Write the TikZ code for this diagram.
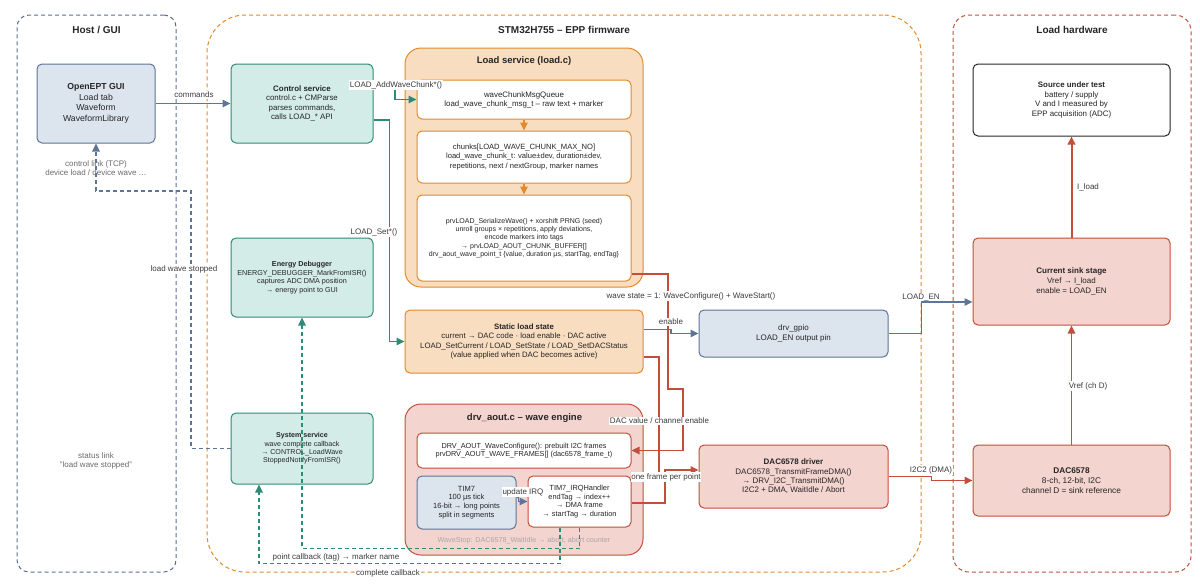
\documentclass[tikz,border=0pt]{standalone}
\usepackage{fontspec}
\setmainfont{Liberation Sans}
\usetikzlibrary{arrows.meta}

\definecolor{guiline}{HTML}{5D7596}
\definecolor{guifill}{HTML}{DCE4EE}
\definecolor{tealline}{HTML}{2E8B78}
\definecolor{tealfill}{HTML}{D3ECE7}
\definecolor{orgline}{HTML}{E2892B}
\definecolor{orgfill}{HTML}{F9DDC1}
\definecolor{redline}{HTML}{C24E3B}
\definecolor{redfill}{HTML}{F4D4CF}
\definecolor{hostline}{HTML}{5C6E8F}
\definecolor{txt}{HTML}{262626}
\definecolor{lbltxt}{HTML}{3C3C3C}
\definecolor{softtxt}{HTML}{6A6A6A}
\definecolor{fainttxt}{HTML}{A8A8A8}

\begin{document}
\begin{tikzpicture}[x=1pt, y=-1pt,
  every node/.style={text=txt, font=\fontsize{7.4}{8.9}\selectfont},
  fs/.style 2 args={font=\fontsize{#1}{#2}\selectfont},
  sz/.style 2 args={minimum width=#1pt, minimum height=#2pt},
  box/.style={rounded corners=5pt, line width=1pt, align=center, inner sep=0pt},
  guibox/.style={box, draw=guiline, fill=guifill},
  tealbox/.style={box, draw=tealline, fill=tealfill},
  orgbox/.style={box, draw=orgline, fill=orgfill},
  orgwhite/.style={box, draw=orgline, fill=white},
  redbox/.style={box, draw=redline, fill=redfill},
  redwhite/.style={box, draw=redline, fill=white},
  plainbox/.style={box, draw=black!85, fill=white},
  grp/.style={dash pattern=on 4pt off 3pt, line width=1pt, inner sep=0pt},
  grptitle/.style={font=\fontsize{10}{12}\selectfont\bfseries},
  subtitle/.style={font=\fontsize{9.5}{11}\selectfont\bfseries},
  lbl/.style={fill=white, inner sep=0.8pt, text=lbltxt, font=\fontsize{8}{9.6}\selectfont},
  note/.style={text=softtxt, align=center, font=\fontsize{8}{9.6}\selectfont},
  tip/.style={-{Triangle[length=8pt,width=7.5pt]}},
  guiarrow/.style={tip, guiline, line width=1.2pt},
  tealarrow/.style={tip, tealline, line width=1.2pt},
  orgarrow/.style={tip, orgline, line width=1.2pt},
  redarrow/.style={tip, redline, line width=1.2pt},
  dashline/.style={dash pattern=on 4pt off 3pt}]

\useasboundingbox (0,0) rectangle (1200,587);



% Groups
\node[grp, draw=hostline, rounded corners=12pt, sz={159}{557}] (host) at (96.5,293.5) {};
\node[grp, draw=orgline, rounded corners=38pt, sz={714}{557}] (fw) at (564,293.5) {};
\node[grp, draw=redline, rounded corners=16pt, sz={238}{557}] (hw) at (1072,293.5) {};

\node[grptitle] (hosttitle) at (96.5,30) {Host / GUI};
\node[grptitle] (fwtitle) at (564,30) {STM32H755 – EPP firmware};
\node[grptitle] (hwtitle) at (1072,30) {Load hardware};

\node[orgbox, rounded corners=16pt, sz={238}{239}] (loadgrp) at (524,167.5) {};
\node[subtitle] (loadtitle) at (524,61) {Load service (load.c)};

\node[redbox, rounded corners=16pt, sz={238}{151}] (aoutgrp) at (524,479.5) {};
\node[subtitle] (aouttitle) at (524.5,418) {drv\_aout.c – wave engine};



% Host side
\node[guibox, sz={118}{79}, fs={8.7}{10.5}] (gui) at (96,103.5)
  {\textbf{OpenEPT GUI}\\Load tab\\Waveform\\WaveformLibrary};

\node[note] (ctltext) at (96,168) {control link (TCP)\\device load / device wave …};
\node[note] (statustext) at (96,461) {status link\\"load wave stopped"};



% Firmware services
\node[tealbox, sz={142}{79}, fs={7.9}{9.5}] (ctrl) at (302,103.5)
  {\textbf{Control service}\\control.c + CMParse\\parses commands,\\calls LOAD\_* API};

\node[tealbox, sz={142}{79}, fs={7.2}{8.5}] (energy) at (302,277.5)
  {\textbf{Energy Debugger}\\ENERGY\_DEBUGGER\_MarkFromISR()\\captures ADC DMA position\\→ energy point to GUI};

\node[tealbox, sz={142}{71}, fs={7.1}{8.4}] (sys) at (302,448.5)
  {\textbf{System service}\\wave complete callback\\→ CONTROL\_LoadWave\\StoppedNotifyFromISR()};

% Load service internals
\node[orgwhite, sz={214}{39}, fs={7.9}{9}] (queue) at (524,99.5)
  {waveChunkMsgQueue\\load\_wave\_chunk\_msg\_t – raw text + marker};

\node[orgwhite, sz={214}{52}, fs={7.6}{9.3}] (chunks) at (524,157)
  {chunks[LOAD\_WAVE\_CHUNK\_MAX\_NO]\\load\_wave\_chunk\_t: value±dev, duration±dev,\\repetitions, next / nextGroup, marker names};

\node[orgwhite, sz={214}{86}, fs={7}{8.4}] (serial) at (524,238)
  {prvLOAD\_SerializeWave() + xorshift PRNG (seed)\\unroll groups × repetitions, apply deviations,\\encode markers into tags\\→ prvLOAD\_AOUT\_CHUNK\_BUFFER[]\\drv\_aout\_wave\_point\_t \{value, duration µs, startTag, endTag\}};

\node[orgbox, sz={238}{63}, fs={7.8}{9.5}] (static) at (524,341.5)
  {\textbf{Static load state}\\current → DAC code · load enable · DAC active\\LOAD\_SetCurrent / LOAD\_SetState / LOAD\_SetDACStatus\\(value applied when DAC becomes active)};

% Wave engine internals
\node[redwhite, sz={214}{35}, fs={7.3}{8.7}] (wavecfg) at (524,450.5)
  {DRV\_AOUT\_WaveConfigure(): prebuilt I2C frames\\prvDRV\_AOUT\_WAVE\_FRAMES[] (dac6578\_frame\_t)};

\node[guibox, sz={99}{53}, fs={7.5}{8.7}] (tim) at (466.5,502.5)
  {TIM7\\100 µs tick\\16-bit → long points\\split in segments};

\node[redwhite, sz={103}{51}, fs={7.4}{8.7}] (irq) at (579.5,501.5)
  {TIM7\_IRQHandler\\endTag → index++\\→ DMA frame\\→ startTag → duration};

\node[text=fainttxt, fs={7.2}{8.6}] (wavestop) at (524,541)
  {WaveStop: DAC6578\_WaitIdle → abort, abort counter};

% Drivers
\node[guibox, sz={189}{47}, fs={8}{10}] (gpio) at (793.5,333.5)
  {drv\_gpio\\LOAD\_EN output pin};

\node[redbox, sz={189}{63}, fs={8}{9.4}] (dacdrv) at (793.5,476.5)
  {\textbf{DAC6578 driver}\\DAC6578\_TransmitFrameDMA()\\→ DRV\_I2C\_TransmitDMA()\\I2C2 + DMA, WaitIdle / Abort};



% Load hardware
\node[plainbox, sz={197}{72}, fs={7.9}{9.5}] (source) at (1071.5,100)
  {\textbf{Source under test}\\battery / supply\\V and I measured by\\EPP acquisition (ADC)};

\node[redbox, sz={197}{87}, fs={8}{10}] (sink) at (1071.5,281.5)
  {\textbf{Current sink stage}\\Vref → I\_load\\enable = LOAD\_EN};

\node[redbox, sz={197}{71}, fs={8.3}{10}] (dac) at (1071.5,480.5)
  {\textbf{DAC6578}\\8-ch, 12-bit, I2C\\channel D = sink reference};



% GUI <-> control
\draw[guiarrow] (gui.east) -- (ctrl.west);
\draw[guiarrow, dashline] (sys.west) -| (191,191) -| (gui.south);

% Control -> load service
\draw[tealarrow] ([yshift=19]ctrl.east) -- (395,84.5) |- (queue.west);
\draw[tealarrow] ([yshift=-16.5]ctrl.east) -- ++(16,0) |- (static.west);

% Load service pipeline
\draw[orgarrow] (queue.south) -- (chunks.north);
\draw[orgarrow] (chunks.south) -- (serial.north);

% Load service -> drivers
\draw[redarrow] ([yshift=-36]serial.east) -- (668,274) -- (668,389) -- (683,389) |- (wavecfg.east);
\draw[guiarrow] ([yshift=12]static.east) -- (671,329.5) |- (gpio.west);
\draw[redarrow] ([yshift=-15.5]static.east) -- (659,357) |- ([yshift=-0.5]dacdrv.west);
\draw[redarrow] ([yshift=-1.5]irq.east) -- (665,503) |- ([yshift=6.5]dacdrv.west);
\draw[guiarrow] ([yshift=5]tim.east) -- ++(2,0) |- (irq.west);

% Callbacks from the ISR
\draw[tealarrow, dashline] (irq.south) -- ++(0,21) -| (energy.south);
\draw[tealarrow, dashline] ([xshift=-19.5]irq.south) -- ++(0,36) -| ([xshift=-43]sys.south);

% Drivers -> hardware
\draw[guiarrow] (gpio.east) -- ++(33,0) |- ([yshift=-20.5]sink.west);
\draw[redarrow] (dacdrv.east) -- ++(43,0) |- (dac.west);
\draw[redarrow] (dac.north) -- (sink.south);
\draw[redarrow, line width=2pt] (sink.north) -- (source.south);



% Connector labels
\node[lbl] (lcmd) at (194,95) {commands};
\node[lbl] (lstop) at (184,269) {load wave stopped};
\node[lbl] (ladd) at (396,85) {LOAD\_AddWaveChunk*()};
\node[lbl] (lset) at (374,232) {LOAD\_Set*()};
\node[lbl] (lwave) at (691,296) {wave state = 1: WaveConfigure() + WaveStart()};
\node[lbl] (lenable) at (671,322) {enable};
\node[lbl] (ldac) at (659.5,421) {DAC value / channel enable};
\node[lbl] (lframe) at (666,477) {one frame per point};
\node[lbl] (lirq) at (523,492) {update IRQ};
\node[lbl] (lpoint) at (336,557) {point callback (tag) → marker name};
\node[lbl] (lcomplete) at (388,573) {complete callback};
\node[lbl] (lloaden) at (921,297) {LOAD\_EN};
\node[lbl] (li2c) at (931,470) {I2C2 (DMA)};
\node[lbl] (lvref) at (1088,386) {Vref (ch D)};
\node[lbl] (liload) at (1088,187) {I\_load};

\end{tikzpicture}
\end{document}
